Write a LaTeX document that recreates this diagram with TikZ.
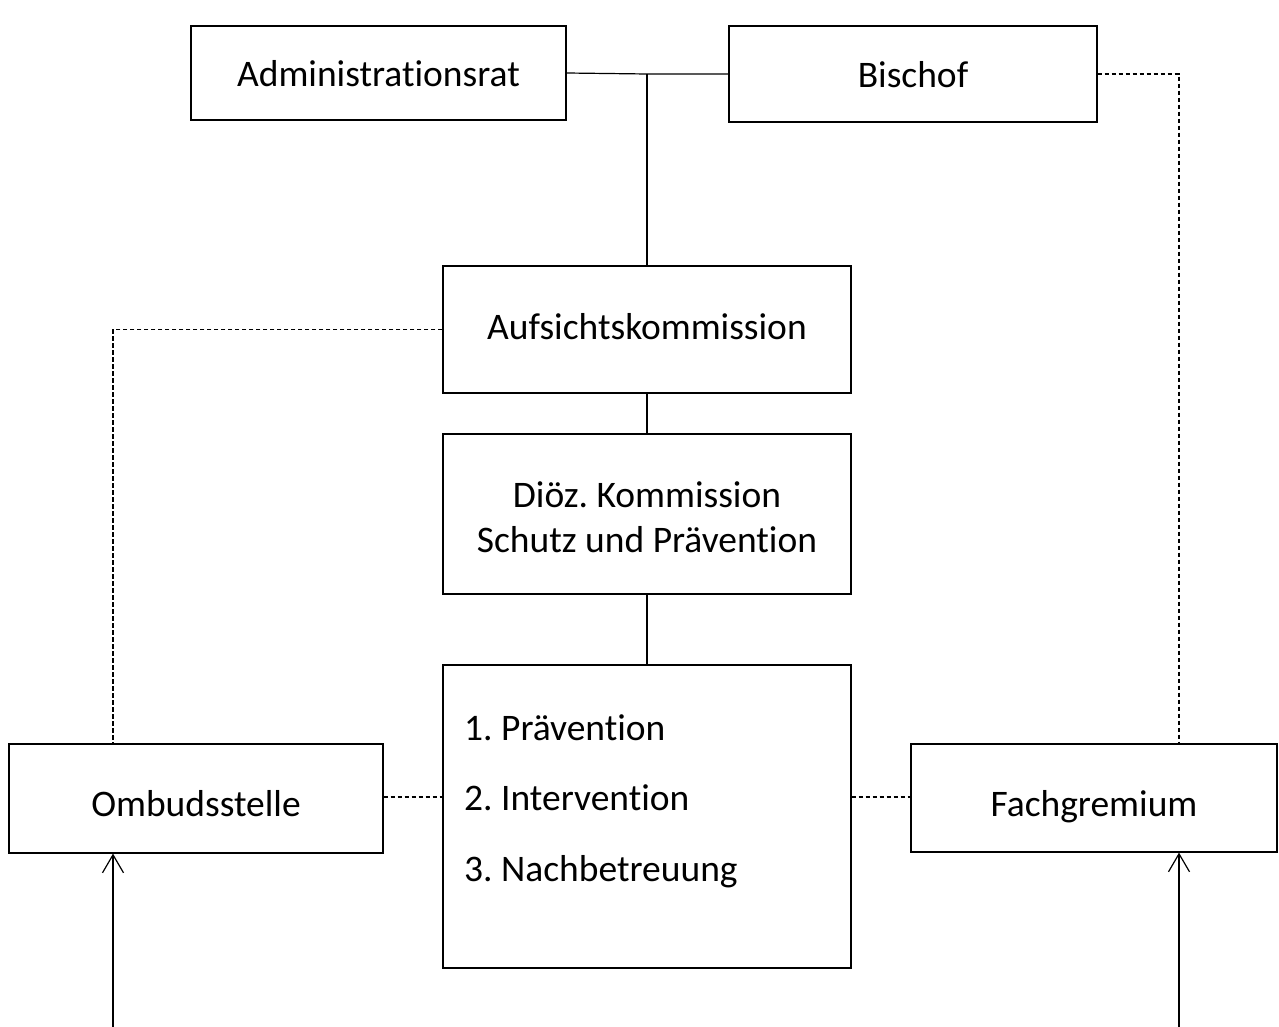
\documentclass[tikz,border=0pt]{standalone}
\usepackage{fontspec}
\setmainfont[Ligatures=CommonOff]{Carlito}
\usetikzlibrary{arrows.meta,positioning}
\tikzset{
    unit/.style = {
        draw,
        line width=1.2pt,
        inner sep=0pt,
        font=\fontsize{37.5}{45}\selectfont,
        },
    one line/.style = {
        text height=24pt,
        text depth=4pt,
        },
    top line/.style = {
        text height=31pt,
        text depth=4pt,
        },
    low line/.style = {
        text height=40pt,
        text depth=4pt,
        },
    solid link/.style = {
        draw,
        line width=1.2pt,
        },
    dashed link/.style = {
        draw,
        line width=1.2pt,
        dash pattern=on 4.5pt off 2.5pt,
        },
    input/.style = {
        draw,
        line width=1.2pt,
        -{Straight Barb[length=18pt,width=21pt]},
        },
}
\begin{document}
\frenchspacing
\begin{tikzpicture}
            [
                x=1pt, y=-1pt,
            ]
            \useasboundingbox (0,0) rectangle (1279,1027);

            % top row
            \node [unit, top line, minimum width=375pt, minimum height=94pt] (admin) at (378.5,73) {Administrationsrat};
            \node [unit, top line, minimum width=368pt, minimum height=96pt] (bischof) at (913,74) {Bischof};

            % middle column
            \node [unit, one line, minimum width=408pt, minimum height=127pt] (aufsicht) at (647,329.5) {Aufsichtskommission};
            \node [unit, minimum width=408pt, minimum height=160pt, align=center] (kommission) at (647,514) {};
            \node [align=center, inner sep=0pt, font=\fontsize{37.5}{45}\selectfont] (kommission text) at (647,517) {Diöz. Kommission\\Schutz und Prävention};
            \node [unit, minimum width=408pt, minimum height=303pt] (aufgaben) at (647,816.5) {};
            \node [anchor=west, align=left, inner sep=0pt, font=\fontsize{37.5}{70.5}\selectfont] (liste) at (464,801)
                {1. Prävention\\2. Intervention\\3. Nachbetreuung};

            % sides
            \node [unit, low line, minimum width=374pt, minimum height=109pt] (ombud) at (196,798.5) {Ombudsstelle};
            \node [unit, low line, minimum width=366pt, minimum height=108pt] (fach) at (1094,798) {Fachgremium};

            \coordinate (join) at (647,74);
            \coordinate (ombud in) at (113,1027);
            \coordinate (fach in) at (1179,1027);

            \path [solid link] (admin.east) -- (join) -- (bischof.west);
            \path [solid link] (join) -- (aufsicht.north);
            \path [solid link] (aufsicht) -- (kommission);
            \path [solid link] (kommission) -- (aufgaben);

            \path [dashed link] (aufsicht.west) -| (ombud.north -| ombud in);
            \path [dashed link] (bischof.east) -| (fach.north -| fach in);
            \path [dashed link] (ombud.east |- 0,797) -- (aufgaben.west |- 0,797);
            \path [dashed link] (aufgaben.east |- 0,797) -- (fach.west |- 0,797);

            \draw [input] (ombud in) -- (ombud.south -| ombud in);
            \draw [input] (fach in) -- (fach.south -| fach in);
        \end{tikzpicture}
\end{document}
